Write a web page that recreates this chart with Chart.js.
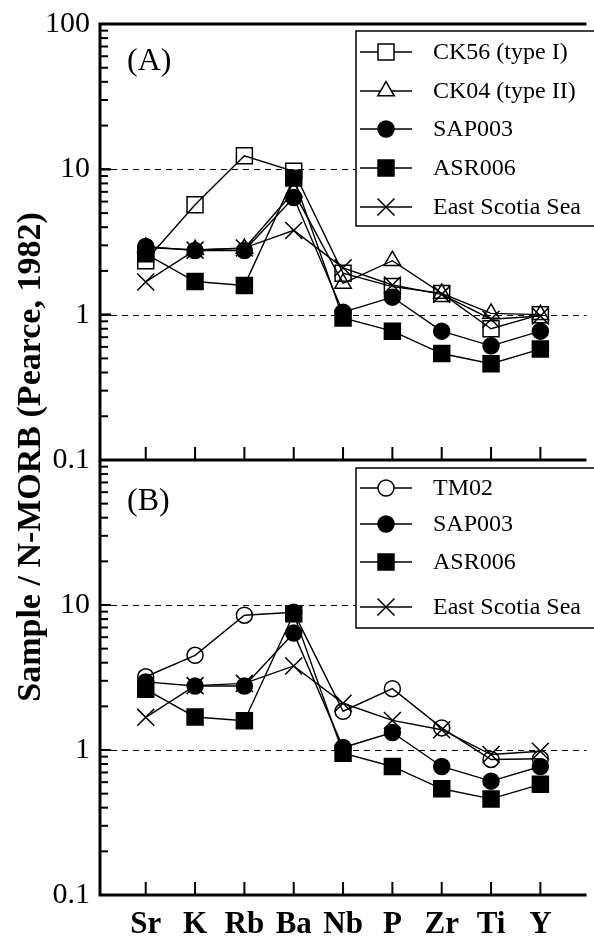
<!DOCTYPE html>
<html>
<head>
<meta charset="utf-8">
<script src="https://cdn.jsdelivr.net/npm/chart.js@4.4.0/dist/chart.umd.min.js"></script>
<style>
html,body{margin:0;padding:0;background:#fff;overflow:hidden;width:594px;height:939px}
canvas{position:absolute;left:0}
#chartA{top:0}
#chartB{top:440px}
#ytitle{position:absolute;left:-220px;top:437px;width:500px;height:40px;line-height:40px;text-align:center;
  font:bold 34px 'Liberation Serif','DejaVu Serif',serif;color:#000;transform:rotate(-90deg);white-space:nowrap;z-index:5}
</style>
</head>
<body>
<canvas id="chartA" width="600" height="480"></canvas>
<canvas id="chartB" width="600" height="499"></canvas>
<div id="ytitle">Sample / N-MORB (Pearce, 1982)</div>
<script>
'use strict';
// spidergram: sample / N-MORB, two panels sharing the element axis
var categories = ['Sr', 'K', 'Rb', 'Ba', 'Nb', 'P', 'Zr', 'Ti', 'Y'];
var ck56 = [2.35, 5.7, 12.4, 9.7, 1.93, 1.56, 1.40, 0.80, 1.00];
var ck04 = [2.9, 2.8, 2.85, 7.0, 1.64, 2.35, 1.40, 1.02, 1.00];
var sap003 = [2.95, 2.76, 2.76, 6.4, 1.04, 1.32, 0.77, 0.61, 0.77];
var asr006 = [2.62, 1.69, 1.59, 8.7, 0.95, 0.77, 0.54, 0.46, 0.58];
var eastScotia = [1.68, 2.78, 2.88, 3.8, 2.1, 1.6, 1.38, 0.93, 0.98];
var tm02 = [3.2, 4.5, 8.5, 8.9, 1.85, 2.65, 1.42, 0.86, 0.87];
var yLabelsA = [0.1, 1, 10, 100];
var yLabelsB = [0.1, 1, 10];
var dashedAt = [1, 10];

var SERIF = "'Liberation Serif','DejaVu Serif',serif";

var styles = {
    'CK56 (type I)': { shape: 'rect', fill: false },
    'CK04 (type II)': { shape: 'triangle', fill: false },
    'SAP003': { shape: 'circle', fill: true },
    'ASR006': { shape: 'rect', fill: true },
    'East Scotia Sea': { shape: 'crossRot', fill: false },
    'TM02': { shape: 'circle', fill: false }
};
var radius = { rect: 11.3, triangle: 9.5, circle: 8, crossRot: 12 };

function pts(vals)
{
    return vals.map(function (v, i) { return { x: i, y: v }; });
}

function ds(label, vals)
{
    var s = styles[label];
    return {
        label: label,
        data: pts(vals),
        borderColor: '#000',
        borderWidth: 1.4,
        pointStyle: s.shape,
        pointRadius: radius[s.shape],
        pointBorderWidth: 1.5,
        pointBorderColor: '#000',
        pointBackgroundColor: s.fill ? '#000' : 'rgba(0,0,0,0)',
        tension: 0,
        fill: false
    };
}

function marker(ctx, shape, x, y, filled)
{
    var r = radius[shape], a;
    ctx.beginPath();
    if (shape === 'rect') {
        a = r * Math.SQRT1_2;
        ctx.rect(x - a, y - a, 2 * a, 2 * a);
    } else if (shape === 'circle') {
        ctx.arc(x, y, r, 0, Math.PI * 2);
    } else if (shape === 'triangle') {
        ctx.moveTo(x, y - r);
        ctx.lineTo(x + Math.sin(2 * Math.PI / 3) * r, y + r / 2);
        ctx.lineTo(x - Math.sin(2 * Math.PI / 3) * r, y + r / 2);
        ctx.closePath();
    } else {
        a = r * Math.SQRT1_2;
        ctx.moveTo(x - a, y - a); ctx.lineTo(x + a, y + a);
        ctx.moveTo(x + a, y - a); ctx.lineTo(x - a, y + a);
    }
    if (shape !== 'crossRot') {
        ctx.fillStyle = filled ? '#000' : '#fff';
        ctx.fill();
    }
    ctx.lineWidth = 1.5;
    ctx.strokeStyle = '#000';
    ctx.stroke();
}

function decor(cfg)
{
    return {
        id: 'decor' + cfg.name,
        beforeDatasetsDraw: function (chart) {
            var ctx = chart.ctx, a = chart.chartArea, ys = chart.scales.y;
            ctx.save();
            ctx.strokeStyle = '#000';
            ctx.lineWidth = 1.2;
            ctx.setLineDash([6, 5]);
            dashedAt.forEach(function (v) {
                var y = Math.round(ys.getPixelForValue(v)) + 0.5;
                ctx.beginPath(); ctx.moveTo(a.left, y); ctx.lineTo(a.right, y); ctx.stroke();
            });
            ctx.restore();
        },
        afterDatasetsDraw: function (chart) {
            var ctx = chart.ctx, a = chart.chartArea, ys = chart.scales.y, xs = chart.scales.x;
            ctx.save();
            ctx.strokeStyle = '#000';
            // frame
            ctx.lineWidth = 3;
            ctx.beginPath();
            ctx.moveTo(a.left, a.top); ctx.lineTo(a.left, a.bottom);
            ctx.moveTo(a.left - 1.5, a.bottom); ctx.lineTo(a.right, a.bottom);
            if (cfg.top) {
                ctx.moveTo(a.left - 1.5, a.top); ctx.lineTo(a.right, a.top);
            }
            ctx.stroke();
            // y ticks, major and minor, pointing inward
            ctx.lineWidth = 2;
            [0.1, 1, 10].forEach(function (d) {
                for (var k = 1; k <= 10; k++) {
                    var v = d * k, y = ys.getPixelForValue(v);
                    var len = (k === 1 || k === 10) ? 11 : 8;
                    ctx.beginPath(); ctx.moveTo(a.left, y); ctx.lineTo(a.left + len, y); ctx.stroke();
                }
            });
            // x ticks
            categories.forEach(function (c, i) {
                var x = xs.getPixelForValue(i);
                ctx.beginPath(); ctx.moveTo(x, a.bottom); ctx.lineTo(x, a.bottom - 13); ctx.stroke();
            });
            // panel label
            ctx.fillStyle = '#000';
            ctx.font = '32px ' + SERIF;
            ctx.textBaseline = 'middle';
            ctx.textAlign = 'left';
            ctx.fillText(cfg.label, 127, cfg.labelY);
            // legend box
            var L = cfg.legend;
            ctx.fillStyle = '#fff';
            ctx.fillRect(L.x, L.top, 260, L.bottom - L.top);
            ctx.lineWidth = 1.5;
            ctx.strokeRect(L.x, L.top, 260, L.bottom - L.top);
            L.items.forEach(function (name, i) {
                var y = L.rows[i], s = styles[name];
                ctx.lineWidth = 1.4;
                ctx.beginPath(); ctx.moveTo(L.x + 4, y); ctx.lineTo(L.x + 56, y); ctx.stroke();
                marker(ctx, s.shape, L.x + 30, y, s.fill);
                ctx.fillStyle = '#000';
                ctx.font = '24px ' + SERIF;
                ctx.textBaseline = 'middle';
                ctx.fillText(name, L.x + 77, y + 1);
            });
            ctx.restore();
        }
    };
}

function build(canvas, datasets, yLabels, cfg)
{
    return new Chart(canvas.getContext('2d'), {
        type: 'line',
        data: { datasets: datasets },
        options: {
            responsive: false,
            animation: false,
            layout: { padding: { top: cfg.padTop, left: 0, right: 0, bottom: 0 } },
            plugins: { legend: { display: false }, tooltip: { enabled: false } },
            scales: {
                x: {
                    type: 'linear',
                    min: -0.927,
                    max: 8.935,
                    grid: { display: false, drawTicks: false },
                    border: { display: false },
                    ticks: {
                        display: cfg.xLabels,
                        autoSkip: false,
                        maxRotation: 0,
                        padding: 11,
                        color: '#000',
                        font: { family: SERIF, size: 31, weight: 'bold' },
                        callback: function (v) { return categories[v] || ''; }
                    },
                    afterBuildTicks: function (s) {
                        s.ticks = categories.map(function (c, i) { return { value: i }; });
                    },
                    afterFit: function (s) {
                        s.height = cfg.xHeight; s.paddingLeft = 0; s.paddingRight = 0;
                    }
                },
                y: {
                    type: 'logarithmic',
                    min: 0.1,
                    max: 100,
                    grid: { display: false, drawTicks: false },
                    border: { display: false },
                    ticks: {
                        autoSkip: false,
                        padding: 10,
                        color: '#000',
                        font: { family: SERIF, size: 30 },
                        callback: function (v) { return String(v); }
                    },
                    afterBuildTicks: function (s) {
                        s.ticks = yLabels.map(function (v) { return { value: v }; });
                    },
                    afterFit: function (s) {
                        s.width = 100; s.paddingTop = 0; s.paddingBottom = 0;
                    }
                }
            }
        },
        plugins: [decor(cfg)]
    });
}

build(document.getElementById('chartA'), [
    ds('CK56 (type I)', ck56),
    ds('CK04 (type II)', ck04),
    ds('SAP003', sap003),
    ds('ASR006', asr006),
    ds('East Scotia Sea', eastScotia)
], yLabelsA, {
    name: 'A', top: true, padTop: 24, xHeight: 20, xLabels: false,
    label: '(A)', labelY: 62,
    legend: { x: 356, top: 31, bottom: 226, rows: [52, 91, 129, 168, 207],
        items: ['CK56 (type I)', 'CK04 (type II)', 'SAP003', 'ASR006', 'East Scotia Sea'] }
});

build(document.getElementById('chartB'), [
    ds('TM02', tm02),
    ds('SAP003', sap003),
    ds('ASR006', asr006),
    ds('East Scotia Sea', eastScotia)
], yLabelsB, {
    name: 'B', top: false, padTop: 20, xHeight: 44, xLabels: true,
    label: '(B)', labelY: 62,
    legend: { x: 356, top: 28, bottom: 188, rows: [48, 84, 122, 167],
        items: ['TM02', 'SAP003', 'ASR006', 'East Scotia Sea'] }
});
</script>
</body>
</html>
